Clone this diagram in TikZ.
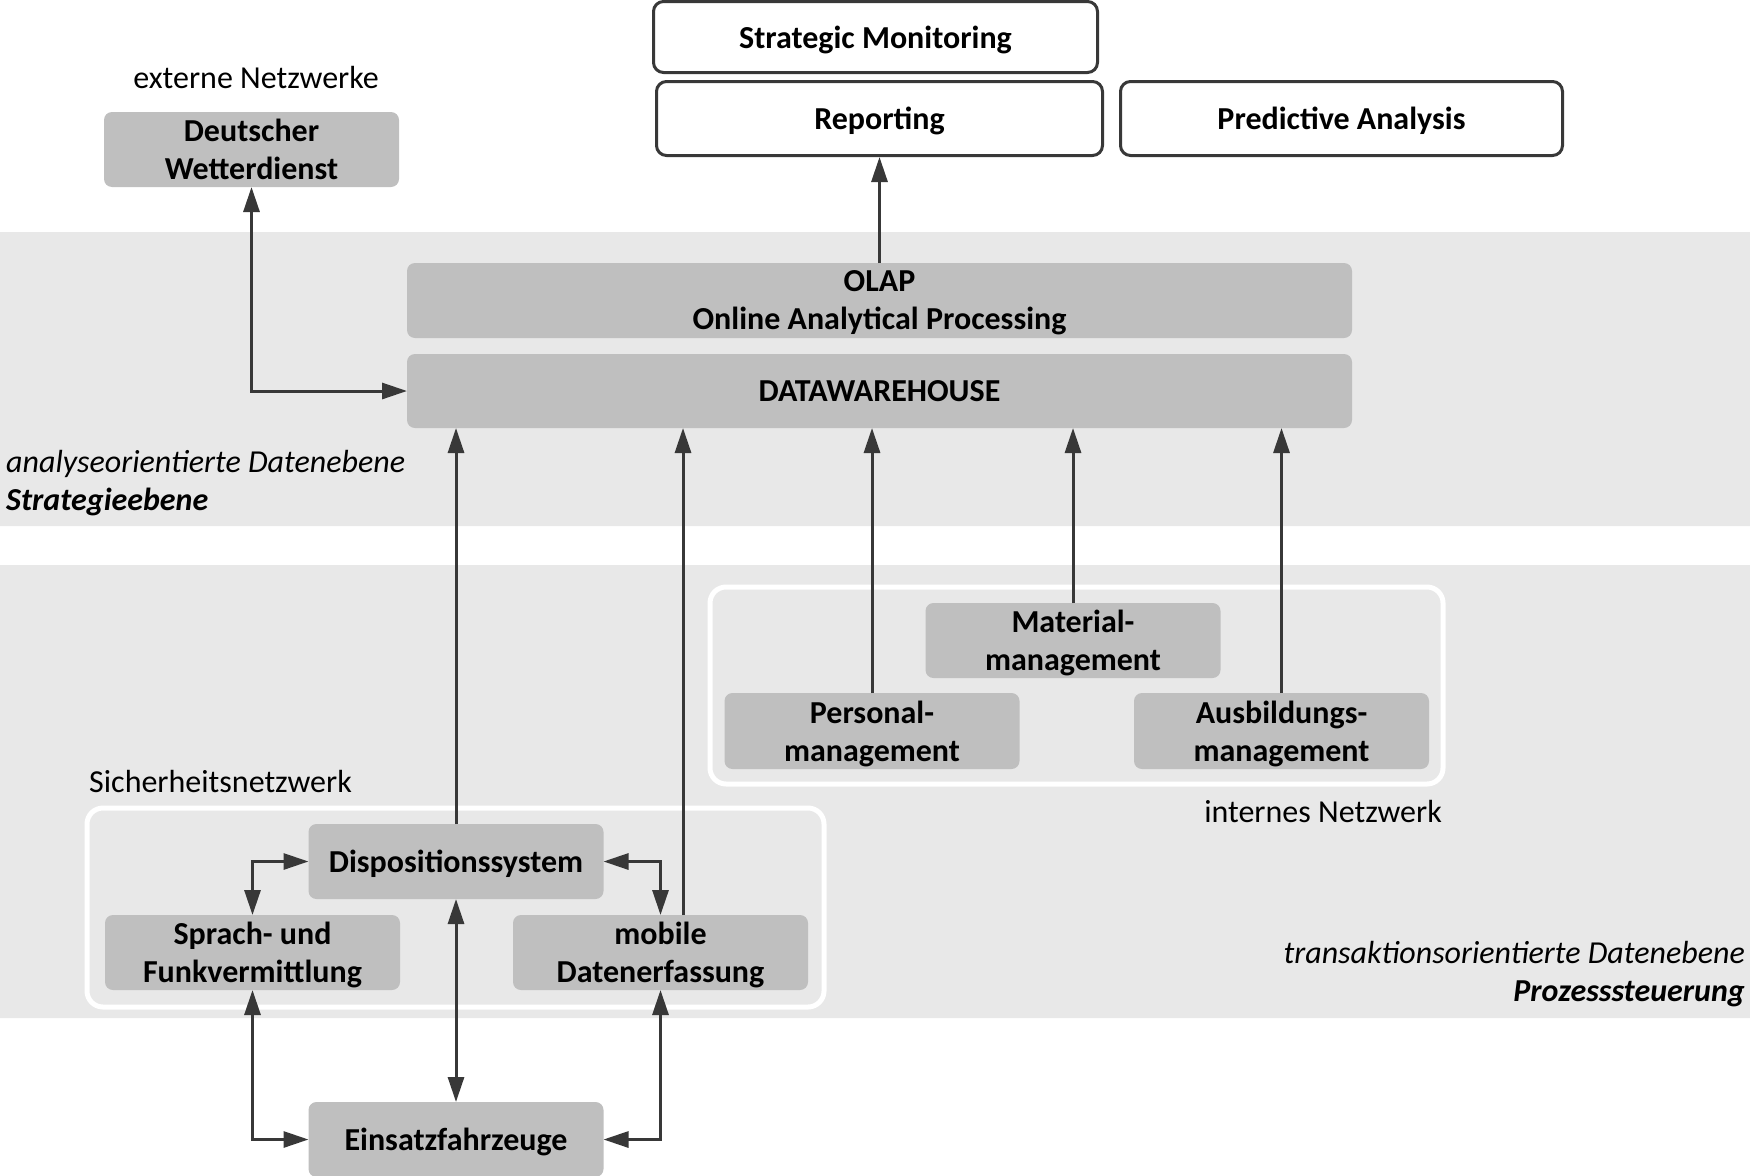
\documentclass[tikz,border=0pt]{standalone}
\usepackage{fontspec}
\setmainfont{Carlito}
\usetikzlibrary{arrows.meta,calc}
\definecolor{bandgray}{HTML}{E8E8E8}
\definecolor{boxgray}{HTML}{BFBFBF}
\definecolor{linegray}{HTML}{383838}
\tikzset{
  gbox/.style={fill=boxgray, rounded corners=8pt, inner sep=0pt, outer sep=0pt,
    minimum width=295pt, minimum height=75pt, align=center, text depth=0pt,
    font=\fontsize{32}{38}\selectfont\bfseries},
  wbox/.style={draw=linegray, line width=3pt, fill=white, rounded corners=10pt, inner sep=0pt,
    outer sep=1.5pt, minimum height=71pt, align=center, text depth=0pt,
    font=\fontsize{32}{38}\selectfont\bfseries},
  lbl/.style={inner sep=0pt, font=\fontsize{32}{38}\selectfont},
  band/.style={fill=bandgray, rounded corners=8pt},
  frame/.style={draw=white, line width=5pt, rounded corners=16pt},
  arr/.style={draw=linegray, line width=3pt, -{Triangle[length=25pt,width=16pt]}},
  darr/.style={draw=linegray, line width=3pt, {Triangle[length=25pt,width=16pt]}-{Triangle[length=25pt,width=16pt]}}
}
\begin{document}
\begin{tikzpicture}[x=1pt,y=-1pt]
\useasboundingbox (0,0) rectangle (1750,1175);
% bands
\path[band] (-10,232) rectangle (1760,526);
\path[band] (-10,565) rectangle (1760,1018);
% frames
\draw[frame] (710,587) rectangle (1443,784);
\draw[frame] (87,808) rectangle (824,1007);
% top boxes
\node[wbox, minimum width=444pt] (sm) at (875.5,37) {Strategic Monitoring};
\node[wbox, minimum width=446pt, minimum height=74pt] (rep) at (879.5,118.5) {Reporting};
\node[wbox, minimum width=442pt, minimum height=74pt] (pa) at (1341.5,118.5) {Predictive Analysis};
% labels
\node[lbl] (ext) at (256,78) {externe Netzwerke};
\node[lbl, anchor=west] (sich) at (89,781) {Sicherheitsnetzwerk};
\node[lbl] (intn) at (1323,811) {internes Netzwerk};
\node[lbl, anchor=west, align=left] (strat) at (6,483) {\itshape analyseorientierte Datenebene\\\bfseries\itshape Strategieebene};
\node[lbl, anchor=east, align=right] (proz) at (1745,974) {\itshape transaktionsorientierte Datenebene\\\bfseries\itshape Prozesssteuerung};
% gray nodes
\node[gbox] (dwd) at (251.5,149.5) {Deutscher\\Wetterdienst};
\node[gbox, minimum width=945pt] (olap) at (879.5,300.5) {OLAP\\Online Analytical Processing};
\node[gbox, minimum width=945pt, minimum height=74pt] (dw) at (879.5,391) {DATAWAREHOUSE};
\node[gbox] (mat) at (1073,640.5) {Material-\\management};
\node[gbox, minimum height=76pt] (per) at (872,731) {Personal-\\management};
\node[gbox, minimum height=76pt] (aus) at (1281.5,731) {Ausbildungs-\\management};
\node[gbox] (disp) at (456,861.5) {Dispositionssystem};
\node[gbox] (spr) at (252.5,952.5) {Sprach- und\\Funkvermittlung};
\node[gbox] (mob) at (660.5,952.5) {mobile\\Datenerfassung};
\node[gbox] (ein) at (456,1139.5) {Einsatzfahrzeuge};
% connectors
\draw[darr] (dwd.south) |- (dw.west);
\draw[arr] (olap.north) -- (rep.south);
\draw[arr] (disp.north) -- (disp.north |- dw.south);
\coordinate (mobtop) at ($(mob.north)+(22.5,0)$);
\draw[arr] (mobtop) -- (mobtop |- dw.south);
\draw[arr] (per.north) -- (per.north |- dw.south);
\draw[arr] (mat.north) -- (mat.north |- dw.south);
\draw[arr] (aus.north) -- (aus.north |- dw.south);
\draw[darr] (disp.west) -| (spr.north);
\draw[darr] (disp.east) -| (mob.north);
\draw[darr] (disp.south) -- (ein.north);
\draw[darr] (spr.south) |- (ein.west);
\draw[darr] (mob.south) |- (ein.east);
\end{tikzpicture}
\end{document}
